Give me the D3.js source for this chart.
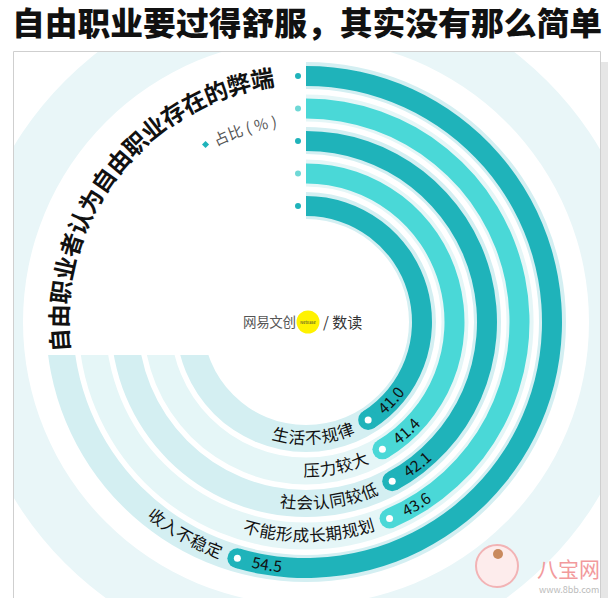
<!DOCTYPE html>
<html>
<head>
<meta charset="utf-8">
<script src="https://cdn.jsdelivr.net/npm/d3@7"></script>
<style>
  body { margin: 0; background: #fff; }
  svg { display: block; font-family: "Noto Sans CJK SC", "Noto Sans", sans-serif; }
</style>
</head>
<body>
<div class="chart"></div>
<script>
// data, outer ring first
var categories = ["收入不稳定", "不能形成长期规划", "社会认同较低", "压力较大", "生活不规律"];
var values = [54.5, 43.6, 42.1, 41.4, 41.0];
var valueLabels = ["54.5", "43.6", "42.1", "41.4", "41.0"];

var width = 608, height = 598;
var cx = 306, cy = 322;
var dark = "#1fb3ba", light = "#4ad8d7";

var svg = d3.select(".chart").append("svg")
    .attr("width", width)
    .attr("height", height);

// title
svg.append("text")
    .attr("x", 12).attr("y", 35)
    .attr("textLength", 590)
    .attr("lengthAdjust", "spacingAndGlyphs")
    .style("font-size", "32px")
    .style("font-weight", 900)
    .style("fill", "#111")
    .text("自由职业要过得舒服，其实没有那么简单");

// frame
svg.append("rect").attr("x", 601).attr("y", 62).attr("width", 7).attr("height", 536).style("fill", "#e6e6e6");
var defs = svg.append("defs");
defs.append("clipPath").attr("id", "frame")
  .append("rect").attr("x", 13).attr("y", 51).attr("width", 588).attr("height", 547);
// tracks are hidden behind the heading (upper-left)
defs.append("clipPath").attr("id", "trackClip")
  .append("path").attr("d", "M" + cx + ",51H601V598H13V355H" + cx + "Z");

var layer = svg.append("g").attr("clip-path", "url(#frame)");
var g = layer.append("g")
    .attr("transform", "translate(" + cx + "," + cy + ")");

var angle = d3.scaleLinear().domain([0, 100]).range([0, 2 * Math.PI]);
var radius = d3.scaleBand().domain(categories).range([256, 106]).paddingInner(0.385);
var bw = radius.bandwidth();
var arc = d3.arc();

function polar(a, r) { return [r * Math.sin(a), -r * Math.cos(a)]; }
function deg(d) { return d * Math.PI / 180; }

// big pale band
g.append("path")
    .attr("d", arc({innerRadius: 283, outerRadius: 341, startAngle: 0, endAngle: 2 * Math.PI}))
    .style("fill", "#e9f6f8");

// tracks
var tg = layer.append("g").attr("clip-path", "url(#trackClip)")
    .append("g")
    .attr("transform", "translate(" + cx + "," + cy + ")");
tg.selectAll(".track")
    .data(categories)
    .enter().append("path")
    .attr("class", "track")
    .attr("d", function(d) {
        return arc({innerRadius: radius(d) - 3, outerRadius: radius(d) + bw + 4, startAngle: 0, endAngle: 2 * Math.PI});
    })
    .style("fill", function(d, i) { return i % 2 ? "#e5f6f7" : "#d4eff2"; });

var g2 = layer.append("g")
    .attr("transform", "translate(" + cx + "," + cy + ")");

// bars
var bars = g2.selectAll(".bar")
    .data(categories)
    .enter().append("g")
    .attr("class", "bar");

bars.append("path")
    .attr("d", function(d, i) {
        return arc({innerRadius: radius(d), outerRadius: radius(d) + bw, startAngle: 0, endAngle: angle(values[i])});
    })
    .style("fill", function(d, i) { return i % 2 ? light : dark; });

bars.append("circle")
    .attr("cx", function(d, i) { return polar(angle(values[i]), radius(d) + bw / 2)[0]; })
    .attr("cy", function(d, i) { return polar(angle(values[i]), radius(d) + bw / 2)[1]; })
    .attr("r", bw / 2)
    .style("fill", function(d, i) { return i % 2 ? light : dark; });

bars.append("circle")
    .attr("cx", function(d, i) { return polar(angle(values[i]), radius(d) + bw / 2)[0]; })
    .attr("cy", function(d, i) { return polar(angle(values[i]), radius(d) + bw / 2)[1]; })
    .attr("r", 3.5)
    .style("fill", "#fff");

// start dots
bars.append("circle")
    .attr("cx", -8)
    .attr("cy", function(d) { return -(radius(d) + bw / 2); })
    .attr("r", 3)
    .style("fill", function(d, i) { return i % 2 ? "#6fd8d6" : dark; });

// counter-clockwise guide paths for labels (in the chart's local space)
function ccwPath(a0, a1, r) {
    var p0 = polar(a0, r), p1 = polar(a1, r);
    return "M" + p0[0] + "," + p0[1] + "A" + r + "," + r + " 0 " + (a0 - a1 > Math.PI ? 1 : 0) + " 0 " + p1[0] + "," + p1[1];
}

categories.forEach(function(d, i) {
    var a = angle(values[i]);
    var r = radius(d) + bw / 2;
    defs.append("path")
        .attr("id", "lp" + i)
        .attr("d", ccwPath(a + Math.PI / 2, a - Math.PI / 2, r));
});

bars.append("text")
    .attr("dy", "0.36em")
    .style("font-size", "16.5px")
    .style("fill", "#111")
  .append("textPath")
    .attr("href", function(d, i) { return "#lp" + i; })
    .attr("startOffset", function(d) { return (radius(d) + bw / 2) * Math.PI / 2 - 17; })
    .attr("text-anchor", "end")
    .text(function(d) { return d; });

bars.append("text")
    .attr("dy", "0.36em")
    .style("font-size", "15.5px")
    .style("fill", "#111")
  .append("textPath")
    .attr("href", function(d, i) { return "#lp" + i; })
    .attr("startOffset", function(d) { return (radius(d) + bw / 2) * Math.PI / 2 + 15; })
    .attr("text-anchor", "start")
    .text(function(d, i) { return valueLabels[i]; });

// curved heading
defs.append("path")
    .attr("id", "headPath")
    .attr("d", function() {
        var r = 238, p0 = polar(deg(-97), r), p1 = polar(deg(-2), r);
        return "M" + p0[0] + "," + p0[1] + "A" + r + "," + r + " 0 0 1 " + p1[0] + "," + p1[1];
    });
g2.append("text")
    .style("font-size", "23.5px")
    .style("font-weight", 700)
    .style("fill", "#111")
  .append("textPath")
    .attr("href", "#headPath")
    .attr("textLength", 372)
    .text("自由职业者认为自由职业存在的弊端");

// legend
defs.append("path")
    .attr("id", "legPath")
    .attr("d", function() {
        var r = 197, p0 = polar(deg(-27), r), p1 = polar(deg(-4), r);
        return "M" + p0[0] + "," + p0[1] + "A" + r + "," + r + " 0 0 1 " + p1[0] + "," + p1[1];
    });
var ld = polar(deg(-29.5), 204);
g2.append("rect")
    .attr("x", ld[0] - 2.5).attr("y", ld[1] - 2.5)
    .attr("width", 5).attr("height", 5)
    .attr("transform", "rotate(45," + ld[0] + "," + ld[1] + ")")
    .style("fill", dark);
g2.append("text")
    .style("font-size", "15px")
    .style("fill", "#555")
  .append("textPath")
    .attr("href", "#legPath")
    .text("占比 ( % )");

// centre logo
g2.append("text")
    .attr("x", -63).attr("y", 5)
    .attr("textLength", 53)
    .style("font-size", "13.5px")
    .style("fill", "#555")
    .text("网易文创");
g2.append("circle").attr("cx", 2).attr("cy", 0).attr("r", 11.5).style("fill", "#fff200");
g2.append("text")
    .attr("x", 2).attr("y", 1.5)
    .attr("text-anchor", "middle")
    .style("font-size", "4px")
    .style("fill", "#333")
    .text("NetEase");
g2.append("text")
    .attr("x", 17).attr("y", 6)
    .style("font-size", "15px")
    .style("fill", "#333")
    .text("/ 数读");

// frame border
svg.append("path")
    .attr("d", "M13.5,598V51.5H600.5V598")
    .style("fill", "none")
    .style("stroke", "#cfcfcf");

// watermark
svg.append("circle").attr("cx", 497).attr("cy", 566).attr("r", 21)
    .style("fill", "#fdecec").style("stroke", "#f2b3b5").style("stroke-width", 2);
svg.append("circle").attr("cx", 498).attr("cy", 554).attr("r", 5).style("fill", "#c98a5e");
svg.append("text")
    .attr("x", 537).attr("y", 577)
    .style("font-size", "21px")
    .style("fill", "#f29a9c")
    .text("八宝网");
svg.append("text")
    .attr("x", 539).attr("y", 593)
    .style("font-size", "9px")
    .style("fill", "#bbb")
    .text("www.8bb.com");
</script>
</body>
</html>
